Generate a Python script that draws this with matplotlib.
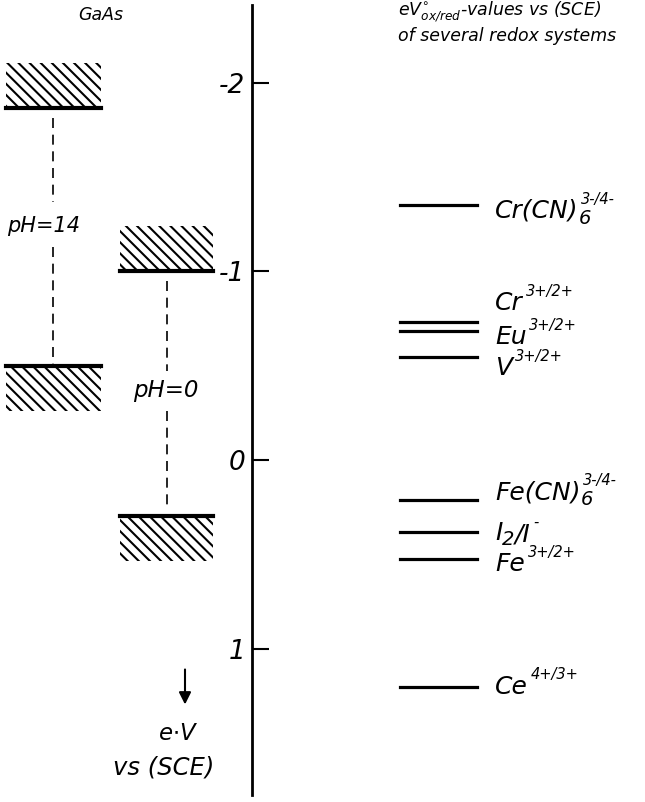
import matplotlib
matplotlib.use("Agg")
import matplotlib.pyplot as plt
from matplotlib.patches import Rectangle

plt.rcParams['font.family'] = ['DejaVu Sans']
plt.rcParams['font.style'] = 'italic'
plt.rcParams['mathtext.fontset'] = 'dejavusans'
plt.rcParams['hatch.linewidth'] = 1.5

# redox levels, eV vs SCE
redox_base = ['Cr(CN)', 'Cr', 'Eu', 'V', 'Fe(CN)', 'I', 'Fe', 'Ce']
redox_sub = ['6', '', '', '', '6', '2', '', '']
redox_tail = ['', '', '', '', '', '/I', '', '']
redox_sup = ['3-/4-', '3+/2+', '3+/2+', '3+/2+', '3-/4-', '-', '3+/2+', '4+/3+']
redox_vals = [-1.35, -0.73, -0.685, -0.545, 0.21, 0.38, 0.525, 1.20]
# where the label text sits (eV), so close levels don't overlap
redox_label_pos = [-1.32, -0.83, -0.65, -0.49, 0.17, 0.385, 0.55, 1.20]

# GaAs band edges
gaas_ph = ['pH=14', 'pH=0']
gaas_cb = [-1.865, -1.0]
gaas_vb = [-0.50, 0.297]

ticks = [-2, -1, 0, 1]

fig = plt.figure(figsize=(6.45, 8.02), dpi=100)
ax = fig.add_axes([0, 0, 1, 1])
ax.set_xlim(0, 645)
ax.set_ylim(1.812, -2.438)

for s in ['top', 'right', 'bottom']:
    ax.spines[s].set_visible(False)
ax.spines['left'].set_position(('data', 252))
ax.spines['left'].set_bounds(-2.41, 1.775)
ax.spines['left'].set_linewidth(2.0)
ax.set_xticks([])
ax.set_yticks(ticks)
ax.set_yticklabels(['-2', '-1', '0', '1'])
ax.tick_params(axis='y', direction='in', length=12, width=1.5, labelsize=19, pad=5)
ax.patch.set_visible(False)

# GaAs boxes
box_x = [6, 120]
box_w = [95, 93]
hatch_h = 0.24
for i in range(2):
    x0, w = box_x[i], box_w[i]
    cb, vb = gaas_cb[i], gaas_vb[i]
    ax.add_patch(Rectangle((x0, cb - hatch_h), w, hatch_h, fill=False,
                           hatch='\\\\\\', linewidth=0, edgecolor='black'))
    ax.add_patch(Rectangle((x0, vb), w, hatch_h, fill=False,
                           hatch='\\\\\\', linewidth=0, edgecolor='black'))
    ax.plot([x0, x0 + w], [cb, cb], color='black', lw=3)
    ax.plot([x0, x0 + w], [vb, vb], color='black', lw=3)

# dashed gap lines, broken where the pH label sits
dash = (0, (6, 4))
ax.plot([53, 53], [gaas_cb[0] + 0.05, -1.37], color='black', lw=1.2, ls=dash)
ax.plot([53, 53], [-1.13, gaas_vb[0]], color='black', lw=1.2, ls=dash)
ax.plot([167, 167], [gaas_cb[1] + 0.05, -0.47], color='black', lw=1.2, ls=dash)
ax.plot([167, 167], [-0.26, gaas_vb[1] - 0.05], color='black', lw=1.2, ls=dash)
ax.text(44, -1.24, gaas_ph[0], fontsize=15, ha='center', va='center')
ax.text(166, -0.37, gaas_ph[1], fontsize=16.5, ha='center', va='center')
ax.text(101, -2.36, 'GaAs', fontsize=12.5, ha='center', va='center', weight='medium')

# redox levels
for i, v in enumerate(redox_vals):
    ax.plot([400, 477], [v, v], color='black', lw=2.3)
    last = ax.text(495, redox_label_pos[i], redox_base[i], fontsize=18,
                   ha='left', va='center')
    sup_ref = last
    if redox_sub[i]:
        last = ax.annotate(redox_sub[i], xy=(1.0, 0.2), xycoords=last, fontsize=14,
                           ha='left', va='center')
    if redox_tail[i]:
        last = ax.annotate(redox_tail[i], xy=(1.0, 0.8), xycoords=last, fontsize=18,
                           ha='left', va='center')
        sup_ref = last
    if redox_sup[i]:
        ax.annotate(redox_sup[i], xy=(1.0, 0.98), xycoords=sup_ref, xytext=(2, 0),
                    textcoords='offset points', fontsize=10.5, ha='left', va='center')

ax.text(398, -2.375, r'$eV^{\circ}_{ox/red}$-values vs (SCE)', fontsize=12.5, ha='left', va='center')
ax.text(398, -2.245, 'of several redox systems', fontsize=12.5, ha='left', va='center')

# direction arrow
ax.annotate('', xy=(185, 1.31), xytext=(185, 1.095),
            arrowprops=dict(arrowstyle='-|>', color='black', lw=1.5, mutation_scale=18))
ax.text(178, 1.447, r'e$\cdot$V', fontsize=16.5, ha='center', va='center')
ax.text(164, 1.627, 'vs (SCE)', fontsize=17.5, ha='center', va='center')

fig.savefig('out.png', dpi=100)
